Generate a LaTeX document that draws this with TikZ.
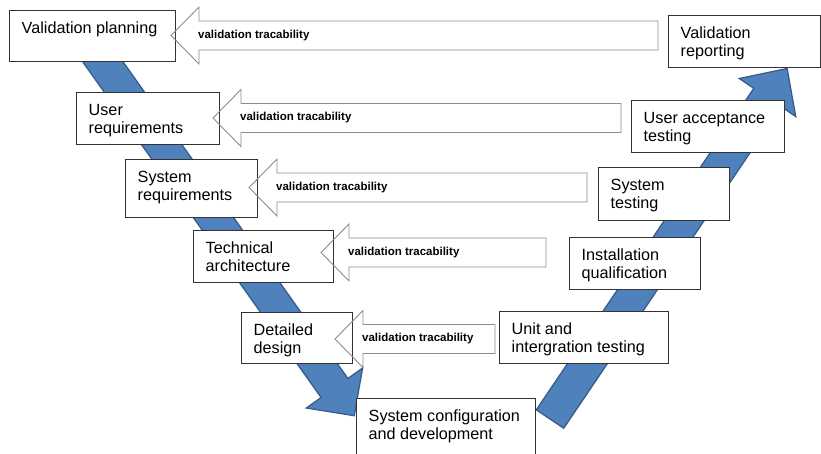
\documentclass[tikz,border=0pt]{standalone}
\usepackage{fontspec}
\setmainfont{Liberation Sans}
\definecolor{vblue}{HTML}{4F81BD}
\definecolor{vblueedge}{HTML}{385D8A}
\definecolor{boxedge}{HTML}{333333}
\definecolor{traceedge}{HTML}{8C8C8C}
\newcommand{\tracearrow}[4]{%
  \coordinate (#4) at (#1,#2);
  \draw[trace] (#4) -- (#1+28,#2-28.5) -- (#1+28,#2-14.5) -- (#3,#2-14.5) -- (#3,#2+14.5) -- (#1+28,#2+14.5) -- (#1+28,#2+28.5) -- cycle;
  \node[tracetext] (#4-l) at (#1+27,#2) {validation tracability};}
\begin{document}
\begin{tikzpicture}[x=1pt,y=-1pt,
  stage/.style={draw=boxedge, line width=1pt, fill=white, inner sep=0pt},
  stagetext/.style={anchor=base west, align=left, inner sep=0pt, font=\fontsize{16.2}{18.5}\selectfont},
  band/.style={fill=vblue, draw=vblueedge, line width=1.3pt, line join=miter},
  trace/.style={draw=traceedge, line width=0.9pt, line join=miter},
  tracetext/.style={font=\bfseries\fontsize{11.5}{13}\selectfont, inner sep=0pt, anchor=west}]
\useasboundingbox (0,0) rectangle (821,453);
% blue V arrows
\draw[band] (100.8,30.5) -- (347.9,378.5) -- (362.6,368.0) -- (354.2,415.7) -- (306.4,408.0) -- (321.1,397.5) -- (74.0,49.5) -- cycle;
\draw[band] (536.3,409.8) -- (753.8,88.3) -- (739.3,78.5) -- (787.1,68.5) -- (795.7,116.5) -- (781.2,106.7) -- (563.7,428.2) -- cycle;
% boxes
\node[stage, minimum width=166, minimum height=51] (vp) at (92,35.5) {};
\node[stage, minimum width=143, minimum height=52] (ur) at (147.5,118) {};
\node[stage, minimum width=132, minimum height=58] (sr) at (191,188) {};
\node[stage, minimum width=140, minimum height=52] (ta) at (263,256) {};
\node[stage, minimum width=111, minimum height=51] (dd) at (296.5,337.5) {};
\node[stage, minimum width=179, minimum height=62] (sc) at (445.5,429) {};
\node[stage, minimum width=152, minimum height=52] (vr) at (744,41) {};
\node[stage, minimum width=153, minimum height=52] (uat) at (707.5,126) {};
\node[stage, minimum width=131, minimum height=53] (st) at (663.5,193.5) {};
\node[stage, minimum width=131, minimum height=52] (iq) at (634.5,263) {};
\node[stage, minimum width=169, minimum height=52] (uit) at (583.5,337) {};
% traceability arrows
\tracearrow{171}{35.5}{658}{t1}
\tracearrow{213}{118}{621}{t2}
\tracearrow{249}{187.5}{587}{t3}
\tracearrow{321}{252.5}{546}{t4}
\tracearrow{335}{339}{495}{t5}
% box texts (base anchor = baseline of last line)
\node[stagetext] (vpt) at (21.5,33) {Validation planning};
\node[stagetext] (urt) at (88.5,133.5) {User\\requirements};
\node[stagetext] (srt) at (137.5,200.5) {System\\requirements};
\node[stagetext] (tat) at (205.5,271.5) {Technical\\architecture};
\node[stagetext] (ddt) at (253.5,353.5) {Detailed\\design};
\node[stagetext] (sct) at (368.5,439.5) {System configuration\\and development};
\node[stagetext] (vrt) at (680.5,56.5) {Validation\\reporting};
\node[stagetext] (uatt) at (643.5,141.5) {User acceptance\\testing};
\node[stagetext] (stt) at (610.5,208.5) {System\\testing};
\node[stagetext] (iqt) at (581.5,278.5) {Installation\\qualification};
\node[stagetext] (uitt) at (511.5,352.5) {Unit and\\intergration testing};
\end{tikzpicture}
\end{document}
